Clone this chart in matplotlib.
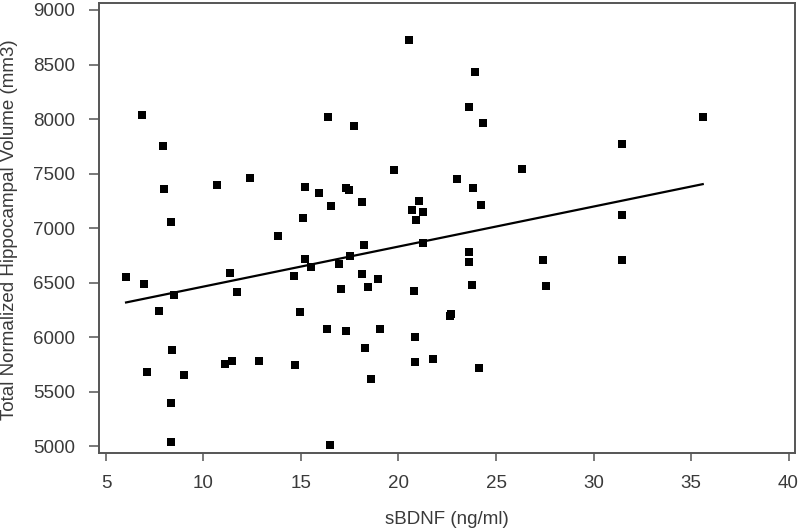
import matplotlib
matplotlib.use("Agg")
import matplotlib.pyplot as plt
import numpy as np

plt.rcParams['font.family'] = ['Liberation Sans', 'DejaVu Sans']

# sBDNF (ng/ml)
sbdnf = [6.83, 7.91, 7.99, 8.35, 10.69, 12.38,
         6.03, 6.95, 8.49, 7.72, 11.36, 11.73, 8.38, 7.09, 9.00, 11.12, 11.48, 12.83, 8.33, 8.33,
         20.54, 23.94, 16.37, 17.72, 23.62, 24.35, 19.78, 26.35, 15.22, 15.92, 17.31, 17.45,
         16.52, 18.11, 23.02, 23.82, 24.21, 15.10, 13.82, 21.03, 20.67, 21.27, 20.88, 18.25,
         21.24, 23.60, 23.60, 15.22, 15.50, 16.96, 17.51,
         14.66, 18.14, 18.44, 18.97, 17.05, 20.81, 23.75, 14.95, 22.68, 22.64, 16.35, 17.32,
         19.04, 20.86, 18.30, 14.71, 20.83, 21.75, 24.14, 18.59, 16.49,
         35.60, 31.48, 31.45, 27.39, 31.48, 27.56]
# Total normalized hippocampal volume (mm3)
volume = [8037, 7755, 7358, 7052, 7394, 7459,
          6548, 6483, 6385, 6241, 6584, 6416, 5878, 5676, 5651, 5755, 5783, 5780, 5397, 5034,
          8722, 8428, 8016, 7939, 8113, 7966, 7532, 7541, 7376, 7318, 7364, 7349,
          7205, 7236, 7447, 7367, 7214, 7089, 6929, 7248, 7165, 7147, 7076, 6847,
          6862, 6777, 6685, 6718, 6642, 6670, 6743,
          6560, 6578, 6462, 6529, 6437, 6419, 6474, 6229, 6215, 6190, 6071, 6058,
          6073, 5997, 5899, 5740, 5771, 5801, 5718, 5617, 5006,
          8016, 7773, 7117, 6706, 6706, 6471]

# regression line
fit_intercept = 6096.0
fit_slope = 36.7

x_ticks = [5, 10, 15, 20, 25, 30, 35, 40]
y_ticks = [5000, 5500, 6000, 6500, 7000, 7500, 8000, 8500, 9000]

fig = plt.figure(figsize=(7.98, 5.29), dpi=100)
ax = fig.add_axes([0.124, 0.1442, 0.8722, 0.8501])

ax.scatter(sbdnf, volume, marker='s', s=30, color='black', linewidths=0, zorder=3)

xs = np.array([min(sbdnf), max(sbdnf)])
ax.plot(xs, fit_intercept + fit_slope * xs, color='black', lw=1.6, zorder=2)

ax.set_xlim(4.64, 40.33)
ax.set_ylim(4939, 9064)
ax.set_xticks(x_ticks)
ax.set_yticks(y_ticks)

text_color = '#3a3a3a'
for sp in ax.spines.values():
    sp.set_color('#555555')
    sp.set_linewidth(1.4)
ax.tick_params(axis='both', direction='out', width=1.1, color='#555555',
               labelsize=13.5, labelcolor=text_color)
ax.tick_params(axis='y', length=7, pad=10)
ax.tick_params(axis='x', length=6, pad=10)

ax.set_xlabel('sBDNF (ng/ml)', fontsize=13.5, color=text_color)
ax.set_ylabel('Total Normalized Hippocampal Volume (mm3)', fontsize=13.5, color=text_color)
ax.xaxis.set_label_coords(0.5, -0.13)
ax.yaxis.set_label_coords(-0.116, 0.497)

fig.savefig('out.png', dpi=100)
